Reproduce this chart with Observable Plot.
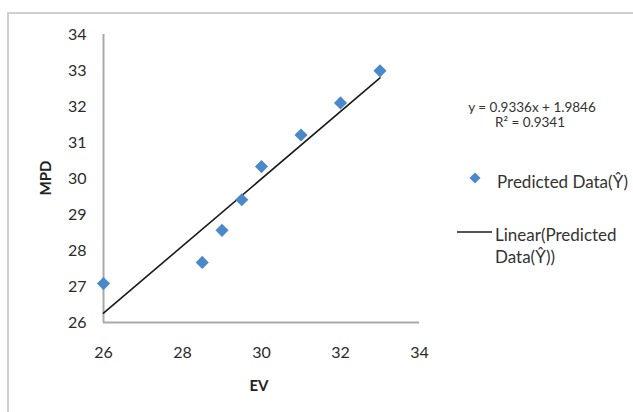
<!DOCTYPE html>
<html>
<head>
<meta charset="utf-8">
<script src="https://cdn.jsdelivr.net/npm/d3@7"></script>
<script src="https://cdn.jsdelivr.net/npm/@observablehq/plot@0.6"></script>
<style>
  html, body { margin: 0; padding: 0; background: #fff; }
  #chart { width: 633px; height: 412px; overflow: hidden; }
</style>
</head>
<body>
<div id="chart"></div>
<script>
// Data
const ev  = [26, 28.5, 29, 29.5, 30, 31, 32, 33];
const mpd = [27.08, 27.67, 28.56, 29.41, 30.33, 31.21, 32.10, 32.99];
const xTicks = [26, 28, 30, 32, 34];
const yTicks = [26, 27, 28, 29, 30, 31, 32, 33, 34];
const trendSlope = 0.9336;
const trendIntercept = 1.9846;
const trendEquation = "y = 0.9336x + 1.9846";
const trendR2 = "R² = 0.9341";
const seriesName = "Predicted Data(Ŷ)";
const trendNameLines = ["Linear(Predicted", "Data(Ŷ))"];

const points = ev.map((x, i) => ({ x, y: mpd[i] }));
const xExtent = d3.extent(ev);
const trend = xExtent.map(x => ({ x, y: trendSlope * x + trendIntercept }));

const FONT = "Lato, 'Open Sans', sans-serif";
const BLUE = "#4a89c9";

const chart = Plot.plot({
  width: 633,
  height: 412,
  marginLeft: 103,
  marginRight: 214,
  marginTop: 34,
  marginBottom: 90,
  style: { fontFamily: FONT, fontSize: "16px", color: "#2b2b2b", background: "#fff" },
  x: { domain: [26, 34] },
  y: { domain: [26, 34] },
  marks: [
    Plot.axisX({ ticks: xTicks, tickSize: 0, tickPadding: 24, label: null, fontSize: 16 }),
    Plot.axisY({ ticks: yTicks, tickSize: 0, tickPadding: 17, label: null, fontSize: 16 }),
    Plot.ruleY([26], { stroke: "#a9a9a9", strokeWidth: 2 }),
    Plot.ruleX([26], { stroke: "#a9a9a9", strokeWidth: 2 }),
    Plot.line(trend, { x: "x", y: "y", stroke: "#1a1a1a", strokeWidth: 1.6 }),
    Plot.dot(points, { x: "x", y: "y", symbol: "diamond2", r: 5.9, fill: BLUE, stroke: "none" })
  ]
});

document.getElementById("chart").appendChild(chart);

// Decorations: outer frame, axis titles, trendline label and legend
const svg = d3.select(chart);
svg.insert("rect", ":first-child")
  .attr("x", 8).attr("y", 13).attr("width", 640).attr("height", 420)
  .attr("fill", "#fff").attr("stroke", "#cfcfcf").attr("stroke-width", 2);

const g = svg.append("g").attr("font-family", FONT).attr("fill", "#222");

g.append("text")
  .attr("transform", "translate(45,178) rotate(-90)")
  .attr("text-anchor", "middle").attr("dominant-baseline", "central")
  .attr("font-size", 15).attr("font-weight", "bold")
  .text("MPD");

g.append("text")
  .attr("x", 259).attr("y", 385)
  .attr("text-anchor", "middle").attr("dominant-baseline", "central")
  .attr("font-size", 15).attr("font-weight", "bold")
  .text("EV");

g.append("text")
  .attr("x", 532).attr("y", 107)
  .attr("text-anchor", "middle").attr("dominant-baseline", "central")
  .attr("font-size", 13.5).attr("fill", "#333")
  .text(trendEquation);
g.append("text")
  .attr("x", 530).attr("y", 122)
  .attr("text-anchor", "middle").attr("dominant-baseline", "central")
  .attr("font-size", 13.5).attr("fill", "#333")
  .text(trendR2);

// legend: series
const dSym = d3.symbol(d3.symbolDiamond2, Math.PI * 5 * 5)();
g.append("path").attr("d", dSym).attr("transform", "translate(475,178)").attr("fill", BLUE);
g.append("text")
  .attr("x", 497).attr("y", 181)
  .attr("text-anchor", "start").attr("dominant-baseline", "central")
  .attr("font-size", 17).attr("fill", "#333")
  .text(seriesName);

// legend: trendline
g.append("line")
  .attr("x1", 457).attr("x2", 492).attr("y1", 232).attr("y2", 232)
  .attr("stroke", "#1a1a1a").attr("stroke-width", 1.6);
trendNameLines.forEach((t, i) => {
  g.append("text")
    .attr("x", 495).attr("y", 234 + i * 22)
    .attr("text-anchor", "start").attr("dominant-baseline", "central")
    .attr("font-size", 17).attr("fill", "#333")
    .text(t);
});
</script>
</body>
</html>
